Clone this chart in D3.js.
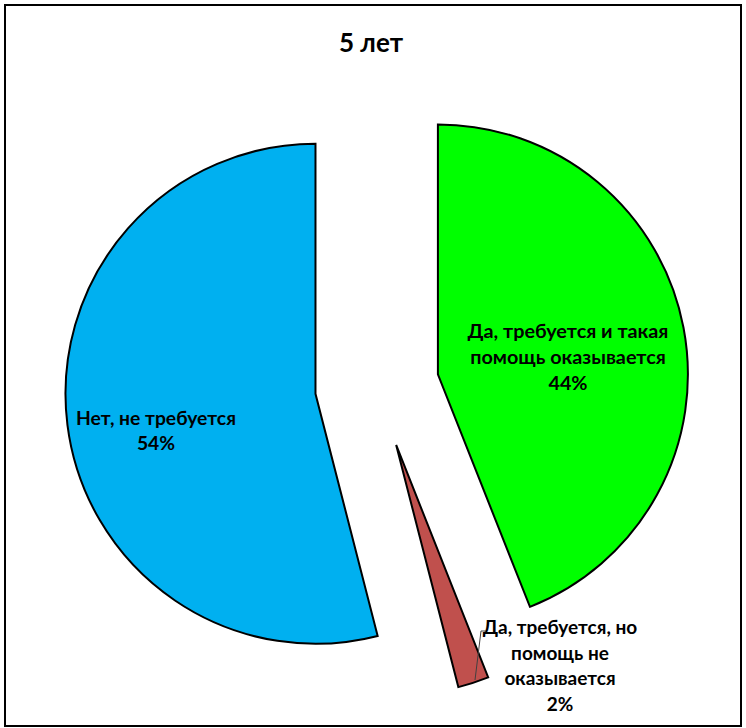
<!DOCTYPE html>
<html><head><meta charset="utf-8">
<script src="https://cdn.jsdelivr.net/npm/d3@7"></script>
<style>html,body{margin:0;padding:0;background:#fff;}</style>
</head><body>
<svg id="chart" width="746" height="728"></svg>
<script>
const title = "5 лет";
const categories = ["Да, требуется и такая помощь оказывается", "Да, требуется, но помощь не оказывается", "Нет, не требуется"];
const values = [44, 2, 54];
const colors = ["#00FF00", "#C0504D", "#00B0F0"];
const labelLines = [
  ["Да, требуется и такая", "помощь оказывается", "44%"],
  ["Да, требуется, но", "помощь не", "оказывается", "2%"],
  ["Нет, не требуется", "54%"]
];

const svg = d3.select("#chart");
svg.append("rect").attr("x", 5).attr("y", 5).attr("width", 736).attr("height", 721)
  .attr("fill", "#fff").attr("stroke", "#000").attr("stroke-width", 2);

svg.append("text").attr("x", 371).attr("y", 52).attr("text-anchor", "middle")
  .attr("font-family", "Lato, 'Open Sans', sans-serif").attr("font-weight", "bold")
  .attr("font-size", 26).text(title);

const cx = 377, cy = 386, R = 250, explode = 62;
const data = categories.map((c, i) => ({cat: c, value: values[i], color: colors[i], lines: labelLines[i]}));
const pie = d3.pie().sort(null).value(d => d.value).startAngle(0).endAngle(2 * Math.PI);
const arcs = pie(data);
const arc = d3.arc().innerRadius(0).outerRadius(R);

const g = svg.append("g").attr("transform", `translate(${cx},${cy})`);
arcs.forEach(a => {
  const mid = (a.startAngle + a.endAngle) / 2;
  a.dx = explode * Math.sin(mid);
  a.dy = -explode * Math.cos(mid);
});
g.selectAll("path.slice").data(arcs).join("path")
  .attr("class", "slice")
  .attr("transform", d => `translate(${d.dx},${d.dy})`)
  .attr("d", arc)
  .attr("fill", d => d.data.color)
  .attr("stroke", "#000").attr("stroke-width", 2).attr("stroke-linejoin", "miter");

// label positions (center x, first baseline y) per slice
const labelPos = [[568, 338], [560, 634], [156, 425]];
const lineH = [26, 25.5, 25];
const fontSizes = [19.8, 19, 19.3];
const font = "Lato, 'Open Sans', sans-serif";
arcs.forEach((a, i) => {
  const t = svg.append("text").attr("text-anchor", "middle")
    .attr("font-family", font).attr("font-weight", "bold").attr("font-size", fontSizes[i]).attr("fill", "#000");
  a.data.lines.forEach((ln, j) => {
    t.append("tspan").attr("x", labelPos[i][0]).attr("y", labelPos[i][1] + j * lineH[i]).text(ln);
  });
});

// leader line for the small slice
svg.append("polyline").attr("points", "486,631 481,631 475,680")
  .attr("fill", "none").attr("stroke", "#404040").attr("stroke-width", 1);
</script>
</body></html>
